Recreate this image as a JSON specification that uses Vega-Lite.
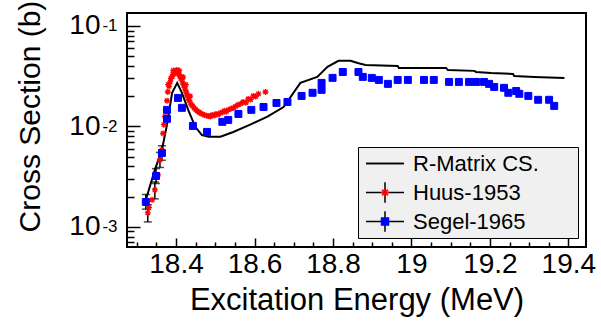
{
  "$schema": "https://vega.github.io/schema/vega-lite/v6.json",
  "width": 459,
  "height": 234,
  "autosize": "none",
  "padding": {"left": 127, "top": 13, "right": 15, "bottom": 75},
  "background": "white",
  "config": {
    "font": "Liberation Sans",
    "view": {"stroke": "black", "strokeWidth": 2},
    "axis": {
      "domain": false,
      "grid": false,
      "tickColor": "black",
      "tickWidth": 1.5,
      "labelColor": "black",
      "labelFont": "Liberation Sans",
      "labelFontSize": 28,
      "titleFont": "Liberation Sans",
      "titleFontSize": 30,
      "titleFontWeight": "normal",
      "titleColor": "black"
    },
    "legend": {
      "orient": "none",
      "legendX": 231,
      "legendY": 134,
      "title": null,
      "padding": 3,
      "rowPadding": 2,
      "clipHeight": 27,
      "gridAlign": "all",
      "symbolSize": 576,
      "symbolOffset": 11,
      "symbolStrokeWidth": 1.5,
      "labelOffset": 15,
      "labelFont": "Liberation Sans",
      "labelFontSize": 22,
      "labelColor": "black",
      "labelLimit": 400
    }
  },
  "data": {
    "values": [
      {"series": "R-Matrix CS.", "x": 18.323, "y": 0.00186},
      {"series": "R-Matrix CS.", "x": 18.346, "y": 0.00369},
      {"series": "R-Matrix CS.", "x": 18.364, "y": 0.00583},
      {"series": "R-Matrix CS.", "x": 18.377, "y": 0.0104},
      {"series": "R-Matrix CS.", "x": 18.39, "y": 0.0216},
      {"series": "R-Matrix CS.", "x": 18.403, "y": 0.0271},
      {"series": "R-Matrix CS.", "x": 18.415, "y": 0.0216},
      {"series": "R-Matrix CS.", "x": 18.431, "y": 0.0146},
      {"series": "R-Matrix CS.", "x": 18.449, "y": 0.0099},
      {"series": "R-Matrix CS.", "x": 18.466, "y": 0.0082},
      {"series": "R-Matrix CS.", "x": 18.484, "y": 0.0079},
      {"series": "R-Matrix CS.", "x": 18.513, "y": 0.0079},
      {"series": "R-Matrix CS.", "x": 18.546, "y": 0.0088},
      {"series": "R-Matrix CS.", "x": 18.589, "y": 0.0104},
      {"series": "R-Matrix CS.", "x": 18.633, "y": 0.0125},
      {"series": "R-Matrix CS.", "x": 18.674, "y": 0.0156},
      {"series": "R-Matrix CS.", "x": 18.717, "y": 0.0271},
      {"series": "R-Matrix CS.", "x": 18.76, "y": 0.0311},
      {"series": "R-Matrix CS.", "x": 18.786, "y": 0.0391},
      {"series": "R-Matrix CS.", "x": 18.814, "y": 0.0449},
      {"series": "R-Matrix CS.", "x": 18.845, "y": 0.0449},
      {"series": "R-Matrix CS.", "x": 18.863, "y": 0.0428},
      {"series": "R-Matrix CS.", "x": 18.883, "y": 0.0409},
      {"series": "R-Matrix CS.", "x": 18.965, "y": 0.04},
      {"series": "R-Matrix CS.", "x": 18.968, "y": 0.0382},
      {"series": "R-Matrix CS.", "x": 19.088, "y": 0.0382},
      {"series": "R-Matrix CS.", "x": 19.093, "y": 0.0365},
      {"series": "R-Matrix CS.", "x": 19.16, "y": 0.0357},
      {"series": "R-Matrix CS.", "x": 19.165, "y": 0.0348},
      {"series": "R-Matrix CS.", "x": 19.203, "y": 0.034},
      {"series": "R-Matrix CS.", "x": 19.259, "y": 0.0333},
      {"series": "R-Matrix CS.", "x": 19.262, "y": 0.0318},
      {"series": "R-Matrix CS.", "x": 19.313, "y": 0.0311},
      {"series": "R-Matrix CS.", "x": 19.39, "y": 0.0304},

      {"series": "Huus-1953", "x": 18.328, "y": 0.00138, "lo": 0.00112, "hi": 0.00166},
      {"series": "Huus-1953", "x": 18.331, "y": 0.00155},
      {"series": "Huus-1953", "x": 18.339, "y": 0.00186},
      {"series": "Huus-1953", "x": 18.346, "y": 0.00233, "lo": 0.0019, "hi": 0.0028},
      {"series": "Huus-1953", "x": 18.354, "y": 0.00329},
      {"series": "Huus-1953", "x": 18.359, "y": 0.00464, "lo": 0.0039, "hi": 0.0055},
      {"series": "Huus-1953", "x": 18.364, "y": 0.00583},
      {"series": "Huus-1953", "x": 18.367, "y": 0.0085},
      {"series": "Huus-1953", "x": 18.369, "y": 0.0104},
      {"series": "Huus-1953", "x": 18.372, "y": 0.0125},
      {"series": "Huus-1953", "x": 18.374, "y": 0.0146},
      {"series": "Huus-1953", "x": 18.377, "y": 0.018},
      {"series": "Huus-1953", "x": 18.379, "y": 0.022},
      {"series": "Huus-1953", "x": 18.38, "y": 0.026},
      {"series": "Huus-1953", "x": 18.382, "y": 0.025},
      {"series": "Huus-1953", "x": 18.385, "y": 0.0277},
      {"series": "Huus-1953", "x": 18.387, "y": 0.03},
      {"series": "Huus-1953", "x": 18.39, "y": 0.0311},
      {"series": "Huus-1953", "x": 18.392, "y": 0.033},
      {"series": "Huus-1953", "x": 18.393, "y": 0.036},
      {"series": "Huus-1953", "x": 18.395, "y": 0.0333},
      {"series": "Huus-1953", "x": 18.397, "y": 0.035},
      {"series": "Huus-1953", "x": 18.4, "y": 0.0348},
      {"series": "Huus-1953", "x": 18.402, "y": 0.0365},
      {"series": "Huus-1953", "x": 18.405, "y": 0.034},
      {"series": "Huus-1953", "x": 18.407, "y": 0.033},
      {"series": "Huus-1953", "x": 18.408, "y": 0.036},
      {"series": "Huus-1953", "x": 18.41, "y": 0.0318},
      {"series": "Huus-1953", "x": 18.412, "y": 0.03},
      {"series": "Huus-1953", "x": 18.415, "y": 0.029},
      {"series": "Huus-1953", "x": 18.417, "y": 0.027},
      {"series": "Huus-1953", "x": 18.418, "y": 0.031},
      {"series": "Huus-1953", "x": 18.42, "y": 0.0253},
      {"series": "Huus-1953", "x": 18.423, "y": 0.0235},
      {"series": "Huus-1953", "x": 18.425, "y": 0.026},
      {"series": "Huus-1953", "x": 18.426, "y": 0.022},
      {"series": "Huus-1953", "x": 18.428, "y": 0.0205},
      {"series": "Huus-1953", "x": 18.431, "y": 0.0192},
      {"series": "Huus-1953", "x": 18.434, "y": 0.018},
      {"series": "Huus-1953", "x": 18.436, "y": 0.02},
      {"series": "Huus-1953", "x": 18.438, "y": 0.0167},
      {"series": "Huus-1953", "x": 18.442, "y": 0.016},
      {"series": "Huus-1953", "x": 18.446, "y": 0.0153},
      {"series": "Huus-1953", "x": 18.45, "y": 0.0147},
      {"series": "Huus-1953", "x": 18.454, "y": 0.0143},
      {"series": "Huus-1953", "x": 18.458, "y": 0.0139},
      {"series": "Huus-1953", "x": 18.461, "y": 0.0136},
      {"series": "Huus-1953", "x": 18.466, "y": 0.0133},
      {"series": "Huus-1953", "x": 18.472, "y": 0.013},
      {"series": "Huus-1953", "x": 18.477, "y": 0.0128},
      {"series": "Huus-1953", "x": 18.482, "y": 0.0127},
      {"series": "Huus-1953", "x": 18.487, "y": 0.0125},
      {"series": "Huus-1953", "x": 18.492, "y": 0.013},
      {"series": "Huus-1953", "x": 18.497, "y": 0.0128},
      {"series": "Huus-1953", "x": 18.502, "y": 0.0133},
      {"series": "Huus-1953", "x": 18.507, "y": 0.0131},
      {"series": "Huus-1953", "x": 18.513, "y": 0.0136},
      {"series": "Huus-1953", "x": 18.518, "y": 0.0138},
      {"series": "Huus-1953", "x": 18.523, "y": 0.0143},
      {"series": "Huus-1953", "x": 18.528, "y": 0.014},
      {"series": "Huus-1953", "x": 18.533, "y": 0.0146},
      {"series": "Huus-1953", "x": 18.54, "y": 0.015},
      {"series": "Huus-1953", "x": 18.546, "y": 0.0153},
      {"series": "Huus-1953", "x": 18.552, "y": 0.0158},
      {"series": "Huus-1953", "x": 18.558, "y": 0.0164},
      {"series": "Huus-1953", "x": 18.565, "y": 0.0168},
      {"series": "Huus-1953", "x": 18.571, "y": 0.0175},
      {"series": "Huus-1953", "x": 18.578, "y": 0.0172},
      {"series": "Huus-1953", "x": 18.584, "y": 0.0188},
      {"series": "Huus-1953", "x": 18.59, "y": 0.0185},
      {"series": "Huus-1953", "x": 18.597, "y": 0.0201},
      {"series": "Huus-1953", "x": 18.603, "y": 0.0198},
      {"series": "Huus-1953", "x": 18.61, "y": 0.0211},
      {"series": "Huus-1953", "x": 18.628, "y": 0.022},

      {"series": "Segel-1965", "x": 18.323, "y": 0.00177, "lo": 0.0015, "hi": 0.0021},
      {"series": "Segel-1965", "x": 18.349, "y": 0.00321, "lo": 0.0027, "hi": 0.0038},
      {"series": "Segel-1965", "x": 18.364, "y": 0.00544, "lo": 0.0046, "hi": 0.0064},
      {"series": "Segel-1965", "x": 18.377, "y": 0.0146},
      {"series": "Segel-1965", "x": 18.377, "y": 0.0119},
      {"series": "Segel-1965", "x": 18.405, "y": 0.0192},
      {"series": "Segel-1965", "x": 18.415, "y": 0.0153},
      {"series": "Segel-1965", "x": 18.443, "y": 0.0101},
      {"series": "Segel-1965", "x": 18.479, "y": 0.00881},
      {"series": "Segel-1965", "x": 18.518, "y": 0.0111},
      {"series": "Segel-1965", "x": 18.533, "y": 0.0116},
      {"series": "Segel-1965", "x": 18.559, "y": 0.0133},
      {"series": "Segel-1965", "x": 18.592, "y": 0.0146},
      {"series": "Segel-1965", "x": 18.623, "y": 0.0156},
      {"series": "Segel-1965", "x": 18.656, "y": 0.0171},
      {"series": "Segel-1965", "x": 18.684, "y": 0.0175},
      {"series": "Segel-1965", "x": 18.72, "y": 0.0201},
      {"series": "Segel-1965", "x": 18.748, "y": 0.0216},
      {"series": "Segel-1965", "x": 18.771, "y": 0.0271},
      {"series": "Segel-1965", "x": 18.771, "y": 0.0231},
      {"series": "Segel-1965", "x": 18.799, "y": 0.0304},
      {"series": "Segel-1965", "x": 18.825, "y": 0.0348},
      {"series": "Segel-1965", "x": 18.865, "y": 0.0348},
      {"series": "Segel-1965", "x": 18.876, "y": 0.0311},
      {"series": "Segel-1965", "x": 18.899, "y": 0.0304},
      {"series": "Segel-1965", "x": 18.917, "y": 0.029},
      {"series": "Segel-1965", "x": 18.94, "y": 0.0265},
      {"series": "Segel-1965", "x": 18.965, "y": 0.029},
      {"series": "Segel-1965", "x": 18.991, "y": 0.029},
      {"series": "Segel-1965", "x": 19.032, "y": 0.029},
      {"series": "Segel-1965", "x": 19.057, "y": 0.029},
      {"series": "Segel-1965", "x": 19.096, "y": 0.0277},
      {"series": "Segel-1965", "x": 19.121, "y": 0.0277},
      {"series": "Segel-1965", "x": 19.147, "y": 0.0277},
      {"series": "Segel-1965", "x": 19.165, "y": 0.0277},
      {"series": "Segel-1965", "x": 19.185, "y": 0.0277},
      {"series": "Segel-1965", "x": 19.198, "y": 0.0265},
      {"series": "Segel-1965", "x": 19.211, "y": 0.0247},
      {"series": "Segel-1965", "x": 19.236, "y": 0.0242},
      {"series": "Segel-1965", "x": 19.247, "y": 0.0216},
      {"series": "Segel-1965", "x": 19.267, "y": 0.0225},
      {"series": "Segel-1965", "x": 19.275, "y": 0.0211},
      {"series": "Segel-1965", "x": 19.298, "y": 0.0201},
      {"series": "Segel-1965", "x": 19.323, "y": 0.0184},
      {"series": "Segel-1965", "x": 19.351, "y": 0.0184},
      {"series": "Segel-1965", "x": 19.364, "y": 0.016}
    ]
  },
  "encoding": {
    "x": {
      "field": "x",
      "type": "quantitative",
      "scale": {"domain": [18.275, 19.445], "nice": false, "zero": false},
      "axis": {
        "title": "Excitation Energy (MeV)",
        "titleFontSize": 31,
        "values": [18.3, 18.35, 18.4, 18.45, 18.5, 18.55, 18.6, 18.65, 18.7, 18.75, 18.8, 18.85, 18.9, 18.95, 19.0, 19.05, 19.1, 19.15, 19.2, 19.25, 19.3, 19.35, 19.4],
        "labelExpr": "indexof([18.4, 18.6, 18.8, 19, 19.2, 19.4], datum.value) >= 0 ? format(datum.value, '~g') : ''",
        "tickSize": {"condition": {"test": "indexof([18.4, 18.6, 18.8, 19, 19.2, 19.4], datum.value) >= 0", "value": -9}, "value": -5},
        "labelPadding": 12,
        "titlePadding": 7
      }
    },
    "y": {
      "field": "y",
      "type": "quantitative",
      "scale": {"type": "log", "domain": [0.00063, 0.1345], "nice": false},
      "axis": null
    }
  },
  "layer": [
    {
      "transform": [{"filter": "datum.series == 'R-Matrix CS.'"}],
      "mark": {"type": "line", "strokeWidth": 2, "color": "black"},
      "encoding": {
        "y": {
          "field": "y",
          "type": "quantitative",
          "axis": {
            "orient": "left",
            "title": "Cross Section (b)",
            "values": [0.0007, 0.0008, 0.0009, 0.001, 0.002, 0.003, 0.004, 0.005, 0.006, 0.007, 0.008, 0.009, 0.01, 0.02, 0.03, 0.04, 0.05, 0.06, 0.07, 0.08, 0.09, 0.1],
            "labelExpr": "indexof([0.001, 0.01, 0.1], datum.value) >= 0 ? '10' : ''",
            "tickSize": {"condition": {"test": "indexof([0.001, 0.01, 0.1], datum.value) >= 0", "value": -13}, "value": -7},
            "labelPadding": 40,
            "labelDy": 4,
            "titleX": -97,
            "titleY": 103,
            "titleBaseline": "middle"
          }
        }
      }
    },
    {
      "transform": [{"filter": "isValid(datum.lo)"}],
      "mark": {"type": "rule", "color": "black", "strokeWidth": 1.5},
      "encoding": {"y": {"field": "lo", "type": "quantitative", "axis": null}, "y2": {"field": "hi"}}
    },
    {
      "transform": [{"filter": "isValid(datum.lo)"}],
      "mark": {"type": "tick", "orient": "horizontal", "color": "black", "size": 8, "thickness": 1.5},
      "encoding": {"y": {"field": "lo", "type": "quantitative", "axis": null}}
    },
    {
      "transform": [{"filter": "isValid(datum.hi)"}],
      "mark": {"type": "tick", "orient": "horizontal", "color": "black", "size": 8, "thickness": 1.5},
      "encoding": {"y": {"field": "hi", "type": "quantitative", "axis": null}}
    },
    {
      "mark": {"type": "point", "opacity": 0},
      "encoding": {
        "y": {
          "field": "y",
          "type": "quantitative",
          "axis": {
            "orient": "left",
            "title": null,
            "ticks": false,
            "values": [0.001, 0.01, 0.1],
            "labelExpr": "datum.value == 0.001 ? '-3' : datum.value == 0.01 ? '-2' : '-1'",
            "labelFontSize": 17,
            "labelPadding": 10,
            "labelDy": -9
          }
        },
        "shape": {
          "field": "series",
          "type": "nominal",
          "scale": {"domain": ["R-Matrix CS.", "Huus-1953", "Segel-1965"], "range": ["M-1.58,0L1.58,0", "M-1.58,0L1.58,0M0,-0.85L0,0.85", "M-1.58,0L1.58,0M0,-0.85L0,0.85"]},
          "legend": {
            "symbolStrokeColor": "black",
            "symbolFillColor": "transparent",
            "symbolOpacity": 1,
            "labelExpr": "''",
            "title": "—",
            "titleOrient": "right",
            "titleFontSize": 20,
            "titleColor": "transparent",
            "titlePadding": 142,
            "fillColor": "#f0f0f0",
            "strokeColor": "black",
            "values": ["R-Matrix CS.", "Huus-1953", "Segel-1965"]
          }
        }
      }
    },
    {
      "encoding": {
        "fill": {
          "field": "series",
          "type": "nominal",
          "scale": {"domain": ["R-Matrix CS.", "Huus-1953", "Segel-1965"], "range": ["black", "#ff0000", "#0000ff"]}
        },
        "stroke": {
          "field": "series",
          "type": "nominal",
          "scale": {"domain": ["R-Matrix CS.", "Huus-1953", "Segel-1965"], "range": ["black", "#ff0000", "#0000ff"]}
        },
        "shape": {
          "field": "series",
          "type": "nominal",
          "scale": {"domain": ["R-Matrix CS.", "Huus-1953", "Segel-1965"], "range": ["M-1.58,0L1.58,0", "M-0.33,0L0.33,0M0,-0.33L0,0.33M-0.24,-0.24L0.24,0.24M-0.24,0.24L0.24,-0.24", "M-0.29,-0.29L0.29,-0.29L0.29,0.29L-0.29,0.29Z"]}
        }
      },
      "layer": [
        {
          "transform": [{"filter": "datum.series == 'Huus-1953'"}],
          "mark": {"type": "point", "filled": true, "size": 324, "strokeWidth": 1.3, "opacity": 1}
        },
        {
          "transform": [{"filter": "datum.series == 'Segel-1965'"}],
          "mark": {"type": "point", "filled": true, "size": 576, "strokeWidth": 1, "opacity": 1}
        }
      ]
    }
  ],
  "resolve": {
    "scale": {"shape": "independent", "fill": "independent", "stroke": "independent"},
    "legend": {"shape": "independent", "fill": "independent", "stroke": "independent"},
    "axis": {"y": "independent"}
  }
}
